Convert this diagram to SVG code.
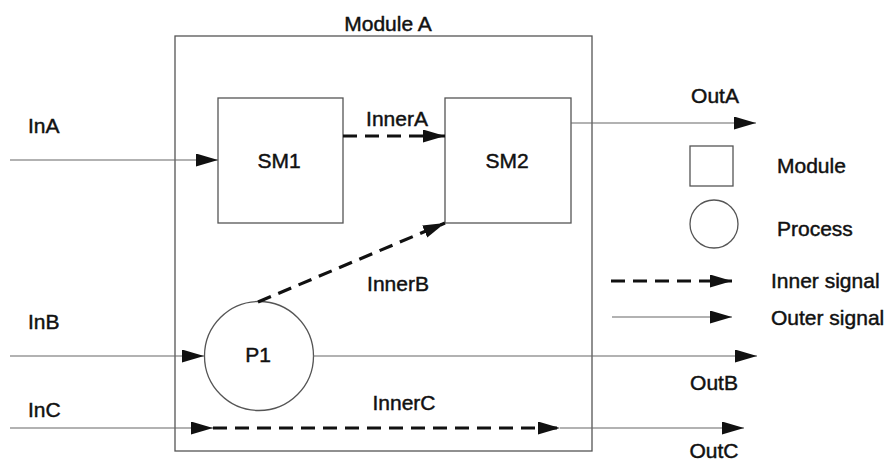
<svg xmlns="http://www.w3.org/2000/svg" width="884" height="462" viewBox="0 0 884 462">
<defs>
<style>
text{font-family:"Liberation Sans",Arial,sans-serif;font-size:21px;fill:#111;stroke:#111;stroke-width:0.45}
.box{fill:none;stroke:#555;stroke-width:1.3}
.outer{fill:none;stroke:#666;stroke-width:1.2}
.inner{fill:none;stroke:#111;stroke-width:3.2;stroke-dasharray:14 8}
.mid{text-anchor:middle}
</style>
<marker id="ah" markerUnits="userSpaceOnUse" markerWidth="24" markerHeight="14" refX="22" refY="6.5" orient="auto">
<path d="M0,0 L22,6.5 L0,13 Z" fill="#111"/>
</marker>
</defs>
<rect width="884" height="462" fill="#fff"/>
<g id="moduleA">
<rect class="box" x="175" y="36" width="417" height="415"/>
<text class="mid" x="388" y="31">Module A</text>
</g>
<g id="SM1">
<rect class="box" x="218" y="98" width="125" height="125"/>
<text class="mid" x="279" y="168">SM1</text>
</g>
<g id="SM2">
<rect class="box" x="445" y="98" width="126" height="125"/>
<text class="mid" x="507" y="168">SM2</text>
</g>
<g id="P1">
<circle class="box" cx="259" cy="356" r="54.5"/>
<text class="mid" x="258" y="362">P1</text>
</g>
<g id="connectors">
<line class="outer" x1="10" y1="160" x2="218" y2="160" marker-end="url(#ah)"/>
<line class="inner" x1="343" y1="136" x2="445" y2="136" marker-end="url(#ah)"/>
<line class="outer" x1="571" y1="123" x2="756" y2="123" marker-end="url(#ah)"/>
<line class="inner" x1="258" y1="302" x2="445" y2="223" marker-end="url(#ah)"/>
<line class="outer" x1="10" y1="356" x2="204" y2="356" marker-end="url(#ah)"/>
<line class="outer" x1="313" y1="356" x2="757" y2="356" marker-end="url(#ah)"/>
<line class="outer" x1="10" y1="428" x2="213" y2="428" marker-end="url(#ah)"/>
<line class="inner" x1="213" y1="428" x2="560" y2="428" marker-end="url(#ah)"/>
<line class="outer" x1="560" y1="428" x2="744" y2="428" marker-end="url(#ah)"/>
</g>
<g id="labels">
<text x="28" y="133">InA</text>
<text class="mid" x="397" y="126">InnerA</text>
<text class="mid" x="715" y="103">OutA</text>
<text class="mid" x="398" y="291">InnerB</text>
<text x="28" y="329">InB</text>
<text class="mid" x="714" y="390">OutB</text>
<text x="28" y="417">InC</text>
<text class="mid" x="404" y="410">InnerC</text>
<text class="mid" x="714" y="458">OutC</text>
</g>
<g id="legend">
<rect class="box" x="690" y="146" width="43" height="40"/>
<text x="777" y="173">Module</text>
<circle class="box" cx="714" cy="224" r="24"/>
<text x="777" y="236">Process</text>
<line class="inner" x1="611" y1="281" x2="732" y2="281" marker-end="url(#ah)"/>
<text x="771" y="288">Inner signal</text>
<line class="outer" x1="612" y1="317" x2="732" y2="317" marker-end="url(#ah)"/>
<text x="771" y="325">Outer signal</text>
</g>
</svg>
